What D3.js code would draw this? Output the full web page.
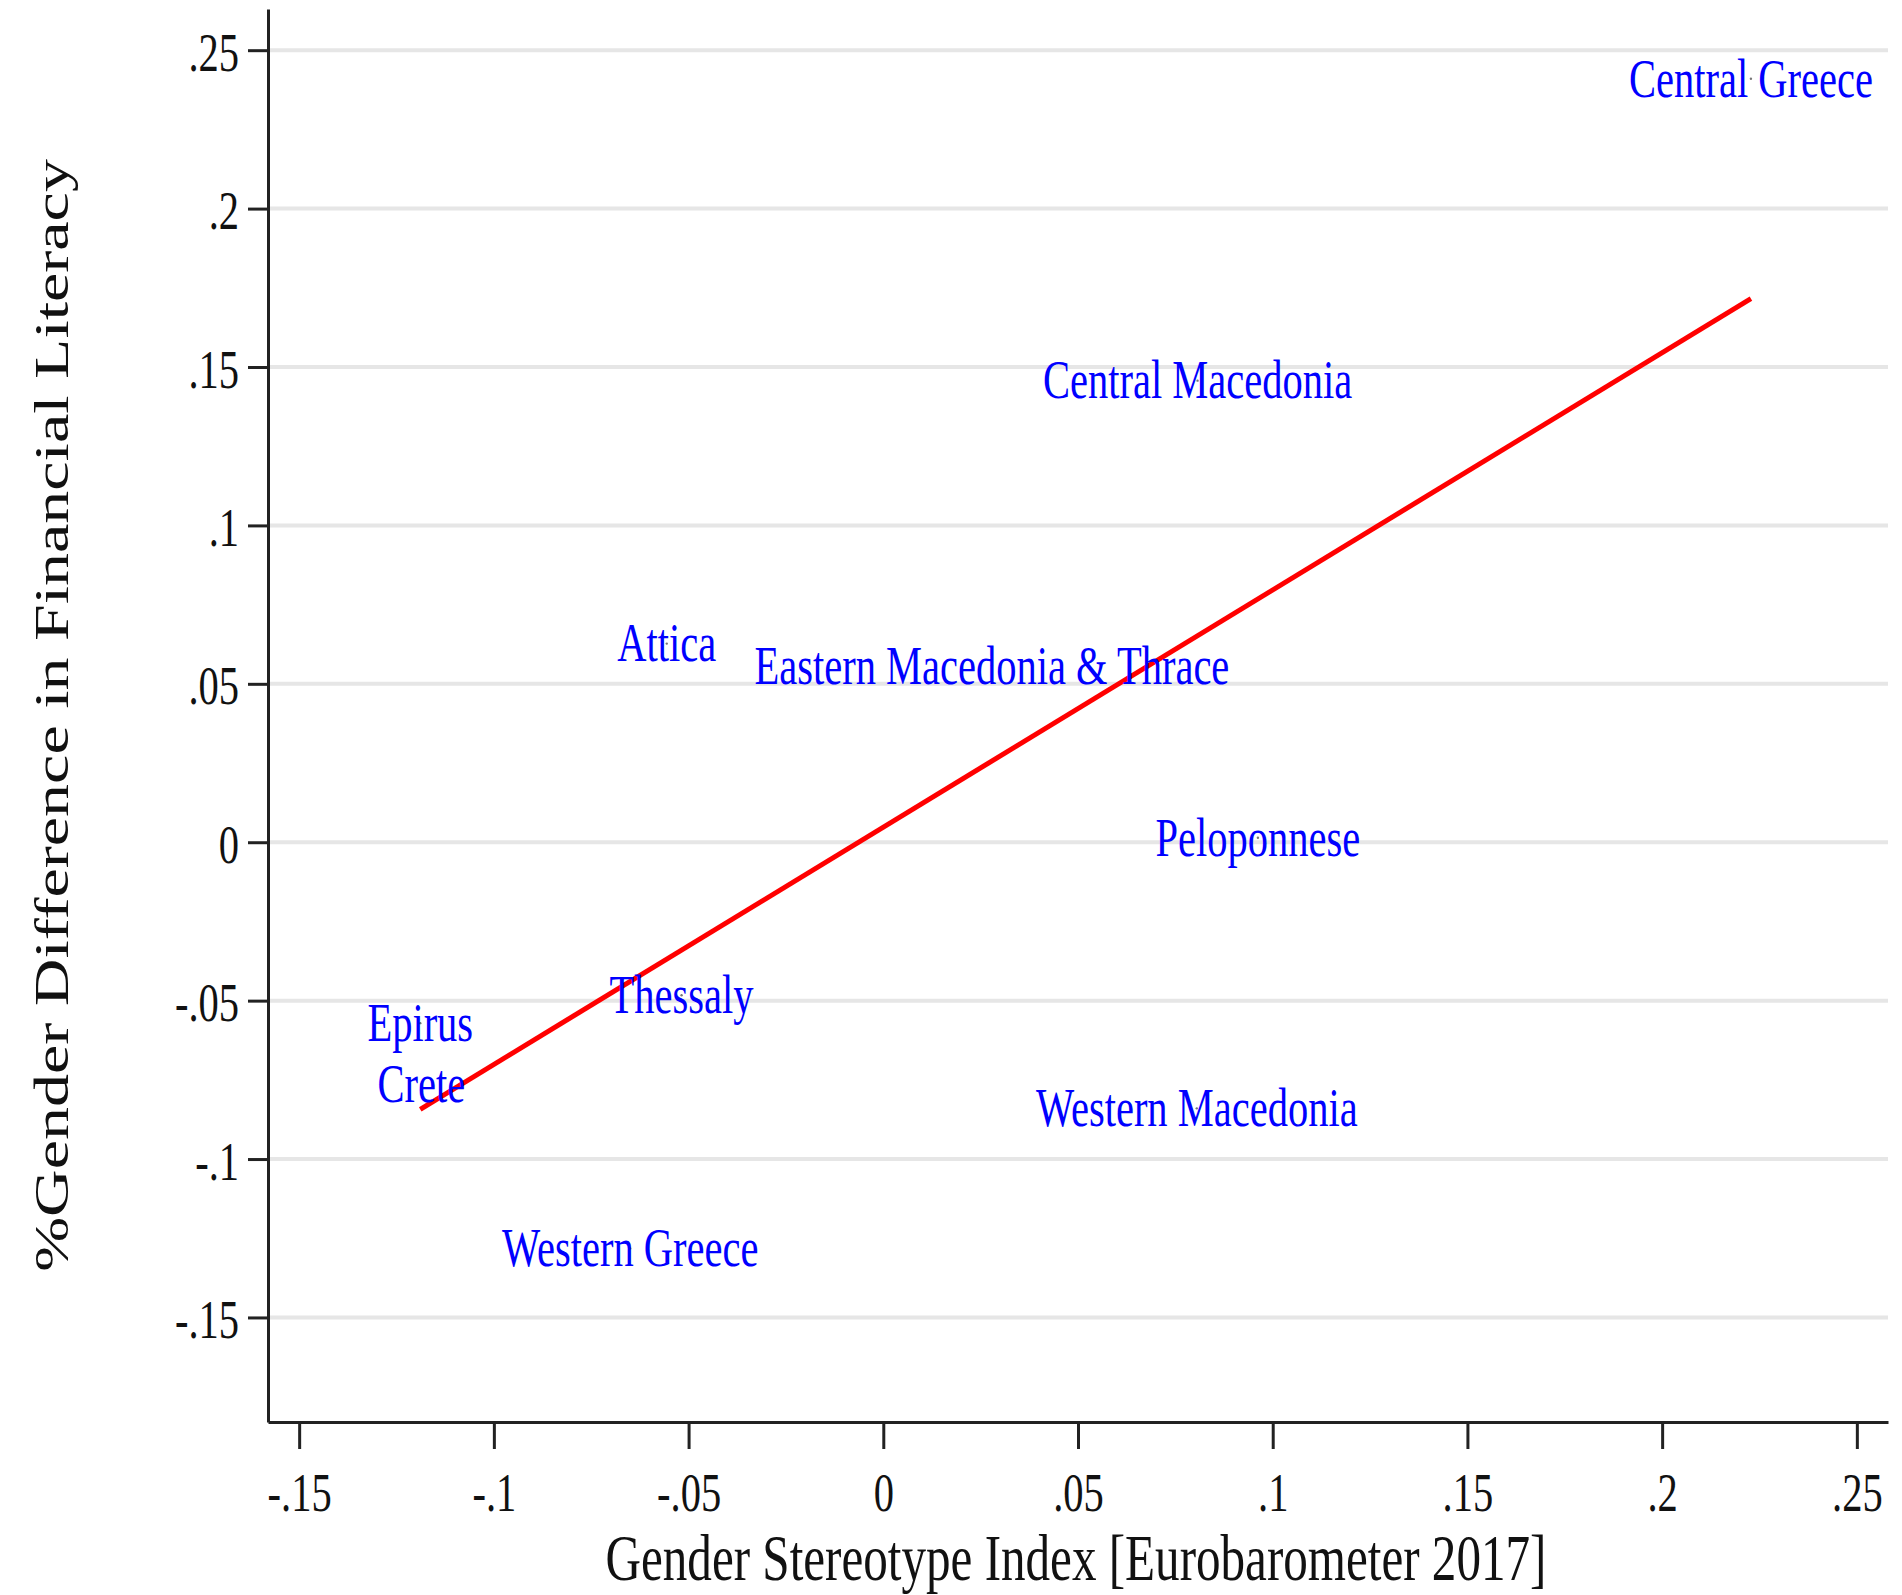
<!DOCTYPE html>
<html>
<head>
<meta charset="utf-8">
<script src="https://cdn.jsdelivr.net/npm/d3@7"></script>
<style>
  body { margin: 0; background: #fff; }
  svg { display: block; font-family: "Liberation Serif", "Times New Roman", serif; }
</style>
</head>
<body>
<div id="chart"></div>
<script>
// Regions (label text sits centred on the point)
const regions = ['Central Greece', 'Central Macedonia', 'Attica', 'Eastern Macedonia & Thrace',
  'Peloponnese', 'Thessaly', 'Epirus', 'Crete', 'Western Macedonia', 'Western Greece'];
const stereotypeIndex = [0.2228, 0.0807, -0.0556, 0.0279, 0.0962, -0.0518, -0.1189, -0.1186, 0.0805, -0.0650];
const genderGap = [0.2410, 0.1457, 0.0627, 0.0557, 0.0014, -0.0483, -0.0571, -0.0763, -0.0840, -0.1282];

// Linear fit (ends at min / max of x)
const fitX = [-0.1189, 0.2228];
const fitY = [-0.0843, 0.1716];

const xTicks = [-0.15, -0.1, -0.05, 0, 0.05, 0.1, 0.15, 0.2, 0.25];
const xTickLabels = ['-.15', '-.1', '-.05', '0', '.05', '.1', '.15', '.2', '.25'];
const yTicks = [-0.15, -0.1, -0.05, 0, 0.05, 0.1, 0.15, 0.2, 0.25];
const yTickLabels = ['-.15', '-.1', '-.05', '0', '.05', '.1', '.15', '.2', '.25'];

const xTitle = 'Gender Stereotype Index [Eurobarometer 2017]';
const yTitle = '%Gender Difference in Financial Literacy';

const width = 1902;
const height = 1595;
const squeeze = 0.75; // the original is horizontally compressed
const plot = { left: 268, right: 1888, top: 9, bottom: 1422 };

const svg = d3.select('#chart').append('svg')
  .attr('width', width)
  .attr('height', height);

const x = d3.scaleLinear().domain([-0.158, 0.258]).range([plot.left, plot.right]);
const y = d3.scaleLinear().domain([-0.183, 0.263]).range([plot.bottom, plot.top]);

// Gridlines
svg.append('g')
  .selectAll('line')
  .data(yTicks)
  .join('line')
  .attr('x1', plot.left)
  .attr('x2', plot.right)
  .attr('y1', d => y(d))
  .attr('y2', d => y(d))
  .attr('stroke', '#e6e6e6')
  .attr('stroke-width', 4);

// Fitted line
const line = d3.line().x(d => x(d[0])).y(d => y(d[1]));
svg.append('path')
  .datum(d3.zip(fitX, fitY))
  .attr('d', line)
  .attr('fill', 'none')
  .attr('stroke', '#ff0000')
  .attr('stroke-width', 5);

// Markers (tiny) and labels
const points = regions.map((name, i) => ({ name, gx: stereotypeIndex[i], gy: genderGap[i] }));

svg.append('g')
  .selectAll('circle')
  .data(points)
  .join('circle')
  .attr('cx', d => x(d.gx))
  .attr('cy', d => y(d.gy))
  .attr('r', 1.2)
  .attr('fill', '#777');

svg.append('g')
  .selectAll('text')
  .data(points)
  .join('text')
  .attr('transform', d => `translate(${x(d.gx)},${y(d.gy)}) scale(${squeeze},1)`)
  .attr('text-anchor', 'middle')
  .attr('dy', '0.33em')
  .attr('fill', '#0000ff')
  .attr('font-size', 54)
  .text(d => d.name);

// Axes
const xAxis = d3.axisBottom(x)
  .tickValues(xTicks)
  .tickFormat((d, i) => xTickLabels[i])
  .tickSize(27)
  .tickSizeOuter(0);

const yAxis = d3.axisLeft(y)
  .tickValues(yTicks)
  .tickFormat((d, i) => yTickLabels[i])
  .tickSize(20)
  .tickSizeOuter(0);

const gx = svg.append('g')
  .attr('transform', `translate(0,${plot.bottom})`)
  .call(xAxis);

const gy = svg.append('g')
  .attr('transform', `translate(${plot.left},0)`)
  .call(yAxis);

for (const g of [gx, gy]) {
  g.select('.domain').attr('stroke', '#222').attr('stroke-width', 3);
  g.selectAll('.tick line').attr('stroke', '#222').attr('stroke-width', 3);
  g.selectAll('.tick text')
    .attr('fill', '#111')
    .attr('font-size', 54)
    .attr('font-family', '"Liberation Serif", "Times New Roman", serif');
}

gx.selectAll('.tick text')
  .attr('y', null)
  .attr('dy', null)
  .attr('transform', `translate(0,89) scale(${squeeze},1)`);

gy.selectAll('.tick text')
  .attr('x', null)
  .attr('dy', null)
  .attr('transform', `translate(-29,20) scale(${squeeze},1)`);

// Axis titles
svg.append('text')
  .attr('transform', `translate(${(plot.left + plot.right) / 2 - 2},1580) scale(${squeeze},1)`)
  .attr('text-anchor', 'middle')
  .attr('font-size', 65.5)
  .attr('fill', '#111')
  .text(xTitle);

svg.append('text')
  .attr('transform', `translate(68,${(plot.top + plot.bottom) / 2}) scale(${squeeze},1) rotate(-90)`)
  .attr('text-anchor', 'middle')
  .attr('font-size', 66)
  .attr('fill', '#111')
  .text(yTitle);
</script>
</body>
</html>
